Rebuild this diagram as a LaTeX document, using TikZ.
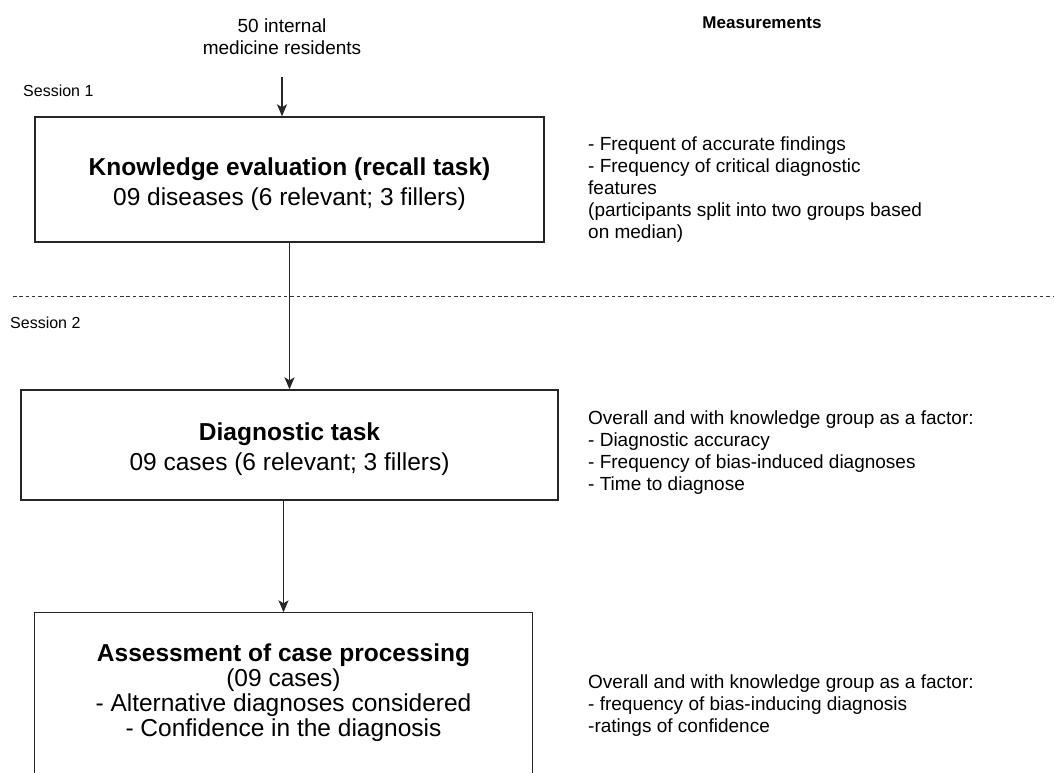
\documentclass[tikz,border=0pt]{standalone}
\usepackage{fontspec}
\setmainfont{Liberation Sans}
\usetikzlibrary{arrows.meta}
\begin{document}
\begin{tikzpicture}[x=1pt,y=-1pt,
    box/.style={draw=black!85,line width=1.4pt,align=center,font=\fontsize{24.5}{30}\selectfont},
    note/.style={align=left,anchor=west,inner sep=0pt,font=\fontsize{19}{22}\selectfont},
    arr/.style={draw=black!85,line width=1.3pt,-{Stealth[length=12pt,width=10pt,inset=3pt]}}]

       \clip (0,0) rectangle (1054,773);
       \fill[white] (0,0) rectangle (1054,773);

       \node[note,anchor=center,align=center] (res) at (282,37) {50 internal\\medicine residents};
       \node[font=\fontsize{17}{20}\selectfont\bfseries] (meas) at (762,23) {Measurements};
       \node[note,font=\fontsize{16}{19}\selectfont] (s1) at (23,91) {Session 1};
       \node[note,font=\fontsize{16}{19}\selectfont] (s2) at (10,323) {Session 2};

       \node[box,minimum width=509pt,minimum height=125pt] (know) at (289.5,179.5)
            {\rule{0pt}{27pt}\textbf{Knowledge evaluation (recall task)}\\09 diseases (6 relevant; 3 fillers)};
       \node[box,minimum width=537pt,minimum height=110pt] (diag) at (289.5,445)
            {\rule{0pt}{27pt}\textbf{Diagnostic task}\\09 cases (6 relevant; 3 fillers)};
       \node[box,draw=none,minimum width=497pt,minimum height=160pt,font=\fontsize{24.5}{25}\selectfont] (assess) at (283.5,693)
            {\textbf{Assessment of case processing}\\(09 cases)\\- Alternative diagnoses considered\\- Confidence in the diagnosis};

       \node[note] (m1) at (588,190) {- Frequent of accurate findings\\- Frequency of critical diagnostic\\features\\(participants split into two groups based\\on median)};
       \node[note] (m2) at (588,452.5) {Overall and with knowledge group as a factor:\\- Diagnostic accuracy\\- Frequency of bias-induced diagnoses\\- Time to diagnose};
       \node[note] (m3) at (588,705.5) {Overall and with knowledge group as a factor:\\- frequency of bias-inducing diagnosis\\-ratings of confidence};

       % open box, cut by the page
       \draw[draw=black!85,line width=1.4pt] ([yshift=-30pt]assess.south west) |- (assess.north east) -- ([yshift=-30pt]assess.south east);

       % session break
       \draw[black!80,line width=1pt,dash pattern=on 3.5pt off 2.8pt] (13,296) -- (1054,296);

       \draw[arr] ([yshift=-22pt]res.south) -- (res.south |- know.north);
       \draw[arr] (know) -- (diag);
       \draw[arr] (assess.north |- diag.south) -- (assess.north);
     \end{tikzpicture}
\end{document}
